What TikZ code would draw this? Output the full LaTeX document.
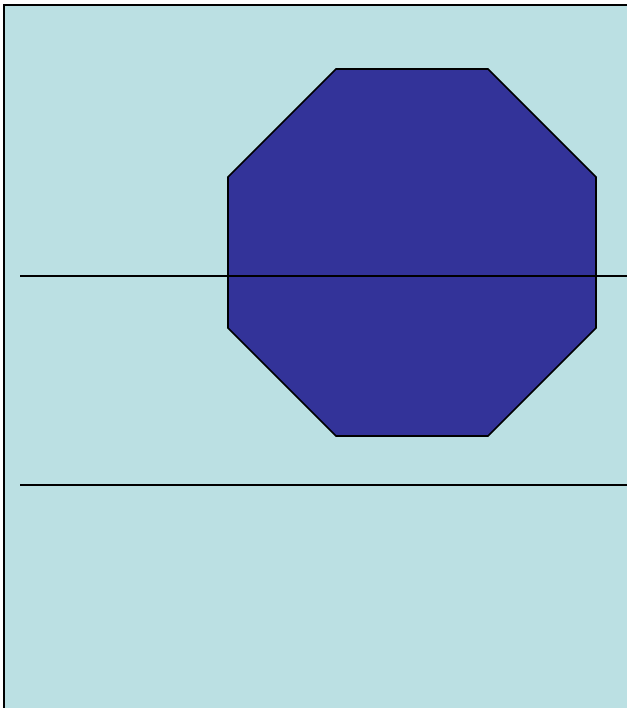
\documentclass[tikz,border=0pt]{standalone}
\usepackage{tikz}
\usetikzlibrary{calc}
\definecolor{panelbg}{HTML}{BBE0E3}
\definecolor{octfill}{HTML}{333399}
\begin{document}
\begin{tikzpicture}[x=0.03cm, y=-0.03cm,
  edge/.style={draw=black, line width=0.06cm},
  rule/.style={draw=black, line width=0.06cm}
]
\useasboundingbox (0,0) rectangle (627,708);
% ── Panel ──
\fill[panelbg] (4,5) rectangle (627,708);
\draw[edge] (4,708) -- (4,5) -- (627,5);
% ── Octagon ──
\coordinate (o1) at (336,69);
\coordinate (o2) at (488,69);
\coordinate (o3) at (596,177);
\coordinate (o4) at (596,328);
\coordinate (o5) at (488,436);
\coordinate (o6) at (336,436);
\coordinate (o7) at (228,328);
\coordinate (o8) at (228,177);
\filldraw[fill=octfill, draw=black, line width=0.05cm, line join=miter]
  (o1) -- (o2) -- (o3) -- (o4) -- (o5) -- (o6) -- (o7) -- (o8) -- cycle;
% ── Rules ──
\coordinate (r1a) at (20,276);
\coordinate (r1b) at (627,276);
\coordinate (r2a) at (20,485);
\coordinate (r2b) at (627,485);
\draw[rule] (r1a) -- (r1b);
\draw[rule] (r2a) -- (r2b);
\end{tikzpicture}
\end{document}
